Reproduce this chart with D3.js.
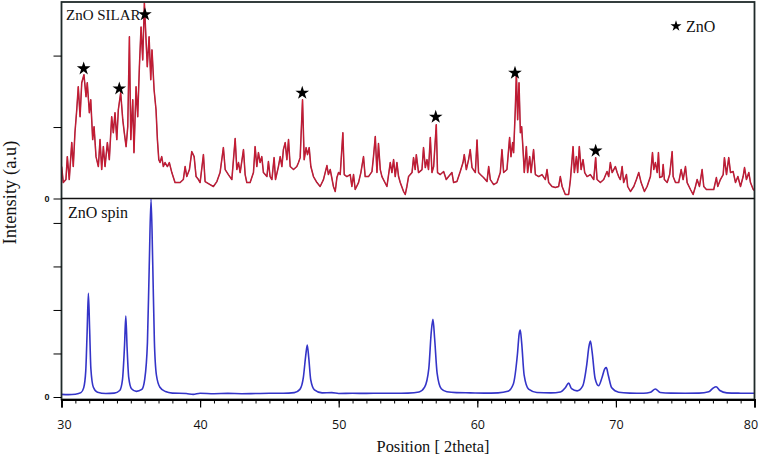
<!DOCTYPE html>
<html>
<head>
<meta charset="utf-8">
<script src="https://cdn.jsdelivr.net/npm/d3@7"></script>
<style>
  body { margin: 0; background: #fff; }
  svg { display: block; }
  .serif { font-family: "Liberation Serif", "Times New Roman", serif; fill: #111; }
  .xaxis text { font-family: "Open Sans", sans-serif; font-size: 12.5px; fill: #111; }
  .yaxis text { font-family: "Liberation Sans", Arial, sans-serif; font-size: 9px; font-weight: bold; fill: #111; }
</style>
</head>
<body>
<div id="chart"></div>
<script>
// XRD patterns, 2theta (deg) vs intensity (counts)
var xTicks = [30, 40, 50, 60, 70, 80];

// top panel: ZnO SILAR (noisy)
var silar = [[30.01,447],[30.13,223],[30.32,265],[30.42,586],[30.56,265],[30.74,782],[30.85,447],[30.97,921],[31.10,1242],[31.21,1564],[31.34,1145],[31.46,1619],[31.62,1731],[31.77,1424],[31.86,1619],[32.01,1201],[32.11,1382],[32.25,824],[32.35,1005],[32.49,586],[32.66,447],[32.78,824],[32.90,405],[33.02,726],[33.14,447],[33.31,782],[33.45,544],[33.62,1145],[33.74,921],[33.86,1201],[33.99,824],[34.10,1242],[34.27,1480],[34.42,1103],[34.53,921],[34.66,726],[34.78,1005],[34.90,2262],[35.00,824],[35.14,1382],[35.23,642],[35.38,1564],[35.50,1145],[35.62,1843],[35.74,2401],[35.86,1940],[35.98,2736],[36.10,2220],[36.19,1843],[36.32,2262],[36.44,1661],[36.53,2080],[36.68,1522],[36.82,1242],[36.92,824],[37.02,544],[37.11,503],[37.23,586],[37.35,447],[37.47,503],[37.64,447],[37.78,503],[37.96,363],[38.19,223],[38.56,223],[38.79,265],[38.92,447],[39.04,307],[39.23,405],[39.40,656],[39.57,586],[39.71,307],[39.88,265],
  [40.00,223],[40.24,614],[40.36,237],[40.72,195],[40.96,168],[41.21,237],[41.44,363],[41.68,712],[41.81,405],[42.04,335],[42.29,265],[42.53,838],[42.65,405],[42.77,503],[42.89,363],[43.13,684],[43.25,335],[43.37,223],[43.61,223],[43.85,363],[43.97,726],[44.09,447],[44.21,642],[44.33,503],[44.45,586],[44.57,363],[44.82,307],[44.93,517],[45.05,307],[45.18,265],[45.34,572],[45.44,265],[45.65,447],[45.78,586],[45.90,447],[46.01,684],[46.14,782],[46.26,544],[46.38,824],[46.50,447],[46.74,405],[46.98,447],[47.10,503],[47.22,572],[47.39,1382],[47.51,544],[47.65,712],[47.75,614],[47.87,712],[47.99,447],[48.18,307],[48.43,223],[48.66,168],[48.90,265],[49.15,461],[49.26,335],[49.39,405],[49.62,168],[49.75,98],[49.87,293],[49.99,363],
  [50.11,335],[50.30,921],[50.40,335],[50.59,307],[50.83,335],[50.95,168],[51.07,335],[51.19,126],[51.43,223],[51.60,363],[51.79,586],[51.91,307],[52.15,307],[52.40,377],[52.51,586],[52.64,866],[52.76,363],[52.87,768],[53.00,405],[53.12,307],[53.48,168],[53.72,503],[53.84,363],[53.96,544],[54.08,307],[54.20,503],[54.32,307],[54.44,223],[54.68,98],[54.80,56],[54.92,168],[55.04,307],[55.29,363],[55.40,572],[55.52,405],[55.60,614],[55.76,363],[56.01,405],[56.12,712],[56.25,433],[56.37,544],[56.48,405],[56.61,852],[56.73,363],[56.85,447],[57.04,1033],[57.13,363],[57.33,335],[57.57,377],[57.76,265],[57.93,307],[58.17,363],[58.29,223],[58.53,237],[58.77,377],[58.97,503],[59.06,614],[59.21,405],[59.37,544],[59.49,684],[59.62,433],[59.86,363],[59.98,820],[60.09,363],
  [60.22,335],[60.45,293],[60.70,237],[60.82,447],[60.94,265],[61.18,195],[61.42,223],[61.66,363],[61.78,684],[61.90,363],[62.14,405],[62.33,852],[62.43,586],[62.55,782],[62.62,642],[62.74,1242],[62.82,1759],[62.91,1103],[63.01,1619],[63.11,921],[63.20,1005],[63.30,684],[63.39,363],[63.54,726],[63.63,363],[63.78,586],[63.88,363],[64.06,684],[64.19,335],[64.43,307],[64.67,335],[64.91,265],[65.03,405],[65.15,223],[65.39,168],[65.63,154],[65.87,168],[65.99,307],[66.12,168],[66.35,56],[66.59,56],[66.72,265],[66.91,726],[67.00,363],[67.15,586],[67.24,363],[67.36,726],[67.49,405],[67.63,544],[67.75,363],[67.92,307],[68.16,335],[68.40,265],[68.54,572],[68.64,265],[68.88,223],[69.12,265],[69.36,377],[69.48,307],[69.60,503],[69.73,363],[69.96,447],[70.09,363],[70.20,307],
  [70.32,265],[70.45,447],[70.56,223],[70.76,335],[70.85,168],[71.05,98],[71.29,168],[71.48,265],[71.65,363],[71.82,223],[72.06,98],[72.25,168],[72.49,307],[72.64,642],[72.73,405],[72.85,503],[72.98,363],[73.07,642],[73.16,293],[73.34,307],[73.41,475],[73.50,265],[73.70,223],[73.88,335],[74.06,656],[74.13,307],[74.30,223],[74.53,223],[74.71,405],[74.85,265],[75.02,447],[75.14,223],[75.38,126],[75.57,56],[75.74,168],[75.86,265],[76.03,168],[76.22,405],[76.34,168],[76.53,126],[77.06,126],[77.25,293],[77.35,168],[77.54,265],[77.74,335],[77.83,572],[77.98,335],[78.14,572],[78.27,363],[78.46,377],[78.63,223],[78.80,307],[78.99,168],[79.18,307],[79.28,433],[79.42,265],[79.59,363],[79.71,223],[79.91,126],[80.07,98]];

// star markers (ZnO reflections) in the top panel
var starTheta = [31.60, 34.17, 36.02, 47.37, 57.00, 62.72, 68.54];
var starCounts = [1818, 1538, 2576, 1477, 1142, 1756, 667];

// bottom panel: ZnO spin
var spin = [[30.0,120],[30.5,110],[31.0,130],[31.4,200],[31.6,420],[31.75,1200],[31.85,3000],[31.94,4770],[32.03,3100],[32.12,1300],[32.3,450],[32.6,220],[33.2,160],[33.8,180],[34.2,300],[34.4,800],[34.55,2400],[34.64,3720],[34.73,2300],[34.85,900],[35.05,380],[35.4,260],[35.8,350],[36.0,800],[36.2,2500],[36.33,6000],[36.46,9100],[36.58,6200],[36.7,2600],[36.85,1000],[37.1,450],[37.5,250],[38,180],[39,160],[39.5,120],[40,170],[41,150],[42,165],[43,150],[44,160],[45,170],[46,170],[46.8,200],[47.2,350],[47.45,900],[47.62,1900],[47.73,2390],[47.84,1800],[47.98,800],[48.25,330],[48.8,190],[49.5,200],[50,160],[51,170],[52,165],[53,175],[54,170],[55,180],[55.8,230],[56.2,450],[56.5,1300],[56.68,3000],[56.8,3570],[56.92,2700],[57.1,1100],[57.4,380],[57.8,240],[58.5,200],[59.5,190],[60.5,180],[61.5,190],[62.2,260],[62.6,600],[62.9,2000],[63.02,2900],[63.1,3080],[63.2,2500],[63.38,1000],[63.7,360],[64.3,210],[65.3,190],[66.0,230],[66.35,420],[66.59,640],[66.8,380],[67.2,280],[67.6,500],[67.9,1500],[68.05,2300],[68.16,2570],[68.28,2100],[68.5,850],[68.75,520],[69.0,900],[69.2,1300],[69.31,1350],[69.45,1000],[69.7,420],[70.2,220],[71,180],[72,170],[72.5,220],[72.85,370],[73.2,210],[74,180],[75,175],[76,180],[76.7,240],[77.0,400],[77.23,470],[77.5,300],[78,190],[79,175],[80,170]];

var w = 760, h = 459;
var plotLeft = 61.5, plotRight = 754.5, plotTop = 2, plotMid = 198.5, plotBottom = 399.5;

var svg = d3.select("#chart").append("svg")
    .attr("width", w)
    .attr("height", h);

var x = d3.scaleLinear().domain([30, 80]).range([plotLeft, plotRight]);
var yTop = d3.scaleLinear().domain([0, 2750]).range([plotMid, plotTop]);
var yBot = d3.scaleLinear().domain([0, 9100]).range([397, 199]);

svg.append("clipPath").attr("id", "clipTop")
  .append("rect").attr("x", plotLeft).attr("y", plotTop)
  .attr("width", plotRight - plotLeft).attr("height", plotMid - plotTop);
svg.append("clipPath").attr("id", "clipBot")
  .append("rect").attr("x", plotLeft).attr("y", plotMid)
  .attr("width", plotRight - plotLeft).attr("height", plotBottom - plotMid);

// traces: dark red under, brighter red on top for the two-tone look
var lineTop = d3.line().x(function(d) { return x(d[0]); }).y(function(d) { return yTop(d[1]); });
svg.append("path")
    .datum(silar)
    .attr("clip-path", "url(#clipTop)")
    .attr("d", lineTop)
    .attr("fill", "none")
    .attr("stroke", "#9c1c3c")
    .attr("stroke-width", 1.5)
    .attr("stroke-linejoin", "round");
svg.append("path")
    .datum(silar)
    .attr("clip-path", "url(#clipTop)")
    .attr("d", lineTop)
    .attr("fill", "none")
    .attr("stroke", "#e41f2d")
    .attr("stroke-width", 0.6)
    .attr("stroke-linejoin", "round");

var lineBot = d3.line().curve(d3.curveMonotoneX)
    .x(function(d) { return x(d[0]); }).y(function(d) { return yBot(d[1]); });
svg.append("path")
    .datum(spin)
    .attr("clip-path", "url(#clipBot)")
    .attr("d", lineBot)
    .attr("fill", "none")
    .attr("stroke", "#3434c8")
    .attr("stroke-width", 1.6);

// stars
svg.selectAll(".star")
    .data(starTheta)
    .enter()
    .append("path")
    .attr("class", "star")
    .attr("d", d3.symbol().type(d3.symbolStar).size(58))
    .attr("transform", function(d, i) { return "translate(" + x(d) + "," + yTop(starCounts[i]) + ")"; })
    .attr("fill", "#000");

// frame
svg.append("rect")
    .attr("x", plotLeft).attr("y", plotTop)
    .attr("width", plotRight - plotLeft).attr("height", plotBottom - plotTop)
    .attr("fill", "none")
    .attr("stroke", "#1f2a2a")
    .attr("stroke-width", 1.8);
svg.append("line")
    .attr("x1", plotLeft).attr("x2", plotRight)
    .attr("y1", plotMid).attr("y2", plotMid)
    .attr("stroke", "#111").attr("stroke-width", 1.5);

// x axis: minor + major ticks
var minor = d3.range(30, 81, 1);
svg.append("g")
    .attr("transform", "translate(0," + plotBottom + ")")
    .call(d3.axisBottom(x).tickValues(minor).tickSize(4).tickFormat(""))
    .call(function(g) { g.select(".domain").remove(); });
var xAxis = svg.append("g")
    .attr("class", "xaxis")
    .attr("transform", "translate(0," + plotBottom + ")")
    .call(d3.axisBottom(x).tickValues(xTicks).tickSize(8).tickPadding(13).tickFormat(d3.format("d")));
xAxis.select(".domain").attr("stroke-width", 1.8);
xAxis.selectAll("line").attr("stroke-width", 1.2);
xAxis.selectAll("text").attr("dx", function(d) { return d === 30 ? 2.5 : d === 80 ? -4 : 0; });

// y axes (only zero labelled)
svg.append("g")
    .attr("class", "yaxis")
    .attr("transform", "translate(" + plotLeft + ",0)")
    .call(d3.axisLeft(yTop).tickValues([0, 1000, 2000]).tickSize(8).tickPadding(4)
      .tickFormat(function(d) { return d === 0 ? "0" : ""; }))
    .call(function(g) { g.select(".domain").remove(); });
svg.append("g")
    .attr("class", "yaxis")
    .attr("transform", "translate(" + plotLeft + ",0)")
    .call(d3.axisLeft(yBot).tickValues([0, 2000, 4000, 6000, 8000]).tickSize(8).tickPadding(4)
      .tickFormat(function(d) { return d === 0 ? "0" : ""; }))
    .call(function(g) { g.select(".domain").remove(); });

// labels
svg.append("text").attr("class", "serif")
    .attr("x", 66).attr("y", 19.5)
    .attr("font-size", "15px")
    .text("ZnO SILAR");
svg.append("text").attr("class", "serif")
    .attr("x", 68).attr("y", 218)
    .attr("font-size", "16px")
    .text("ZnO spin");

// legend
svg.append("path")
    .attr("d", d3.symbol().type(d3.symbolStar).size(38))
    .attr("transform", "translate(676,26)")
    .attr("fill", "#000");
svg.append("text").attr("class", "serif")
    .attr("x", 686).attr("y", 31.5)
    .attr("font-size", "16px")
    .text("ZnO");

svg.append("text").attr("class", "serif")
    .attr("x", 433).attr("y", 452)
    .attr("text-anchor", "middle")
    .attr("font-size", "16.4px")
    .text("Position [ 2theta]");

svg.append("text").attr("class", "serif")
    .attr("transform", "rotate(-90)")
    .attr("x", -192.5).attr("y", 16)
    .attr("text-anchor", "middle")
    .attr("font-size", "18.5px")
    .text("Intensity (a.u)");
</script>
</body>
</html>
